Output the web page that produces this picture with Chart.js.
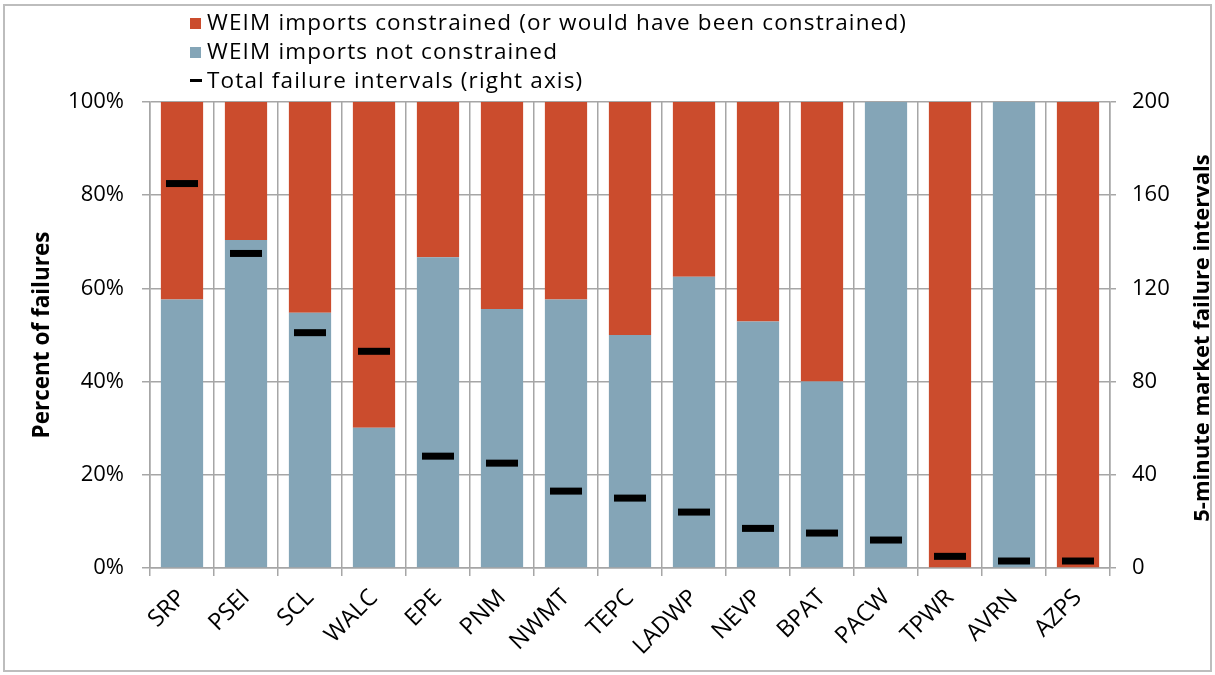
<!DOCTYPE html>
<html>
<head>
<meta charset="utf-8">
<script src="https://cdn.jsdelivr.net/npm/chart.js@4"></script>
<style>
  html, body { margin: 0; padding: 0; background: #fff; }
  #wrap { position: relative; width: 1215px; height: 675px; font-family: "Open Sans", sans-serif; }
  #frame { position: absolute; left: 3px; top: 4px; width: 1209px; height: 668px; border: 2px solid #bdbdbd; box-sizing: border-box; pointer-events: none; }
  #chart { position: absolute; left: 0; top: 0; }
  #legend { position: absolute; left: 190px; top: 7px; font-size: 22.5px; letter-spacing: 1.15px; color: #000; }
  #legend div { height: 29px; line-height: 29px; white-space: nowrap; }
  .box { display: inline-block; width: 11px; height: 11px; margin-right: 6px; vertical-align: 1px; }
  .dash { display: inline-block; width: 12px; height: 3px; background: #000; margin-right: 5px; vertical-align: 6px; }
  #rtitle { position: absolute; left: 1200px; top: 338px; transform: translate(-50%, -50%) rotate(-90deg); font-size: 22px; font-weight: bold; white-space: nowrap; }
</style>
</head>
<body>
<div id="wrap">
  <canvas id="chart" width="1215" height="675"></canvas>
  <div id="legend">
    <div><span class="box" style="background:#cb4c2d"></span>WEIM imports constrained (or would have been constrained)</div>
    <div><span class="box" style="background:#84a5b7"></span>WEIM imports not constrained</div>
    <div><span class="dash"></span>Total failure intervals (right axis)</div>
  </div>
  <div id="rtitle">5-minute market failure intervals</div>
  <div id="frame"></div>
</div>
<script>
var areas = ['SRP', 'PSEI', 'SCL', 'WALC', 'EPE', 'PNM', 'NWMT', 'TEPC', 'LADWP', 'NEVP', 'BPAT', 'PACW', 'TPWR', 'AVRN', 'AZPS'];
var notConstrained = [57.6, 70.4, 54.8, 30.1, 66.7, 55.6, 57.6, 50.0, 62.5, 52.9, 40.0, 100, 0, 100, 0];
var constrained = [42.4, 29.6, 45.2, 69.9, 33.3, 44.4, 42.4, 50.0, 37.5, 47.1, 60.0, 0, 100, 0, 100];
var totalIntervals = [165, 135, 101, 93, 48, 45, 33, 30, 24, 17, 15, 12, 5, 3, 3];
var pctTicks = [0, 20, 40, 60, 80, 100];

var gridColor = '#a6a6a6';

window.addEventListener('DOMContentLoaded', (event) => {
    initChart();
});

function initChart() {
    new Chart(document.getElementById('chart'), {
        type: 'bar',
        data: {
            labels: areas,
            datasets: [
                {
                    type: 'line',
                    label: 'Total failure intervals (right axis)',
                    data: totalIntervals,
                    yAxisID: 'y1',
                    showLine: false,
                    pointStyle: 'line',
                    pointRadius: 16,
                    pointHoverRadius: 16,
                    pointBorderWidth: 7,
                    pointBorderColor: '#000',
                    borderColor: '#000',
                    order: 0
                },
                {
                    label: 'WEIM imports not constrained',
                    data: notConstrained,
                    backgroundColor: '#84a5b7',
                    yAxisID: 'y',
                    stack: 'pct',
                    barPercentage: 0.66,
                    categoryPercentage: 1,
                    order: 1
                },
                {
                    label: 'WEIM imports constrained (or would have been constrained)',
                    data: constrained,
                    backgroundColor: '#cb4c2d',
                    yAxisID: 'y',
                    stack: 'pct',
                    barPercentage: 0.66,
                    categoryPercentage: 1,
                    order: 1
                }
            ]
        },
        options: {
            responsive: false,
            animation: false,
            layout: { padding: { top: 102, left: 0, right: 0, bottom: 0 } },
            plugins: {
                legend: { display: false },
                tooltip: { enabled: false }
            },
            scales: {
                x: {
                    stacked: true,
                    offset: true,
                    grid: { color: gridColor, lineWidth: 1.5, offset: true, tickLength: 8 },
                    border: { color: gridColor, width: 1.5 },
                    ticks: { font: { family: 'Open Sans', size: 23.5 }, color: '#000', minRotation: 45, maxRotation: 45, padding: 8 },
                    afterFit: function(scale) { scale.height = 107; }
                },
                y: {
                    stacked: true,
                    position: 'left',
                    min: 0,
                    max: 100,
                    afterBuildTicks: function(scale) { scale.ticks = pctTicks.map(v => ({ value: v })); },
                    grid: { color: gridColor, lineWidth: 1.5, tickLength: 8 },
                    border: { color: gridColor, width: 1.5 },
                    ticks: { font: { family: 'Open Sans', size: 22 }, color: '#000', padding: 18, callback: v => v + '%' },
                    title: { display: true, text: 'Percent of failures', font: { family: 'Open Sans', size: 22.5, weight: 'bold' }, color: '#000', padding: { top: 29, bottom: 0 } },
                    afterFit: function(scale) { scale.width = 150; }
                },
                y1: {
                    position: 'right',
                    min: 0,
                    max: 200,
                    ticks: { stepSize: 40, font: { family: 'Open Sans', size: 22 }, color: '#000', padding: 16 },
                    grid: { drawOnChartArea: false, color: gridColor, lineWidth: 1.5, tickLength: 6 },
                    border: { color: gridColor, width: 1.5 },
                    afterFit: function(scale) { scale.width = 105; }
                }
            }
        }
    });
}
</script>
</body>
</html>
